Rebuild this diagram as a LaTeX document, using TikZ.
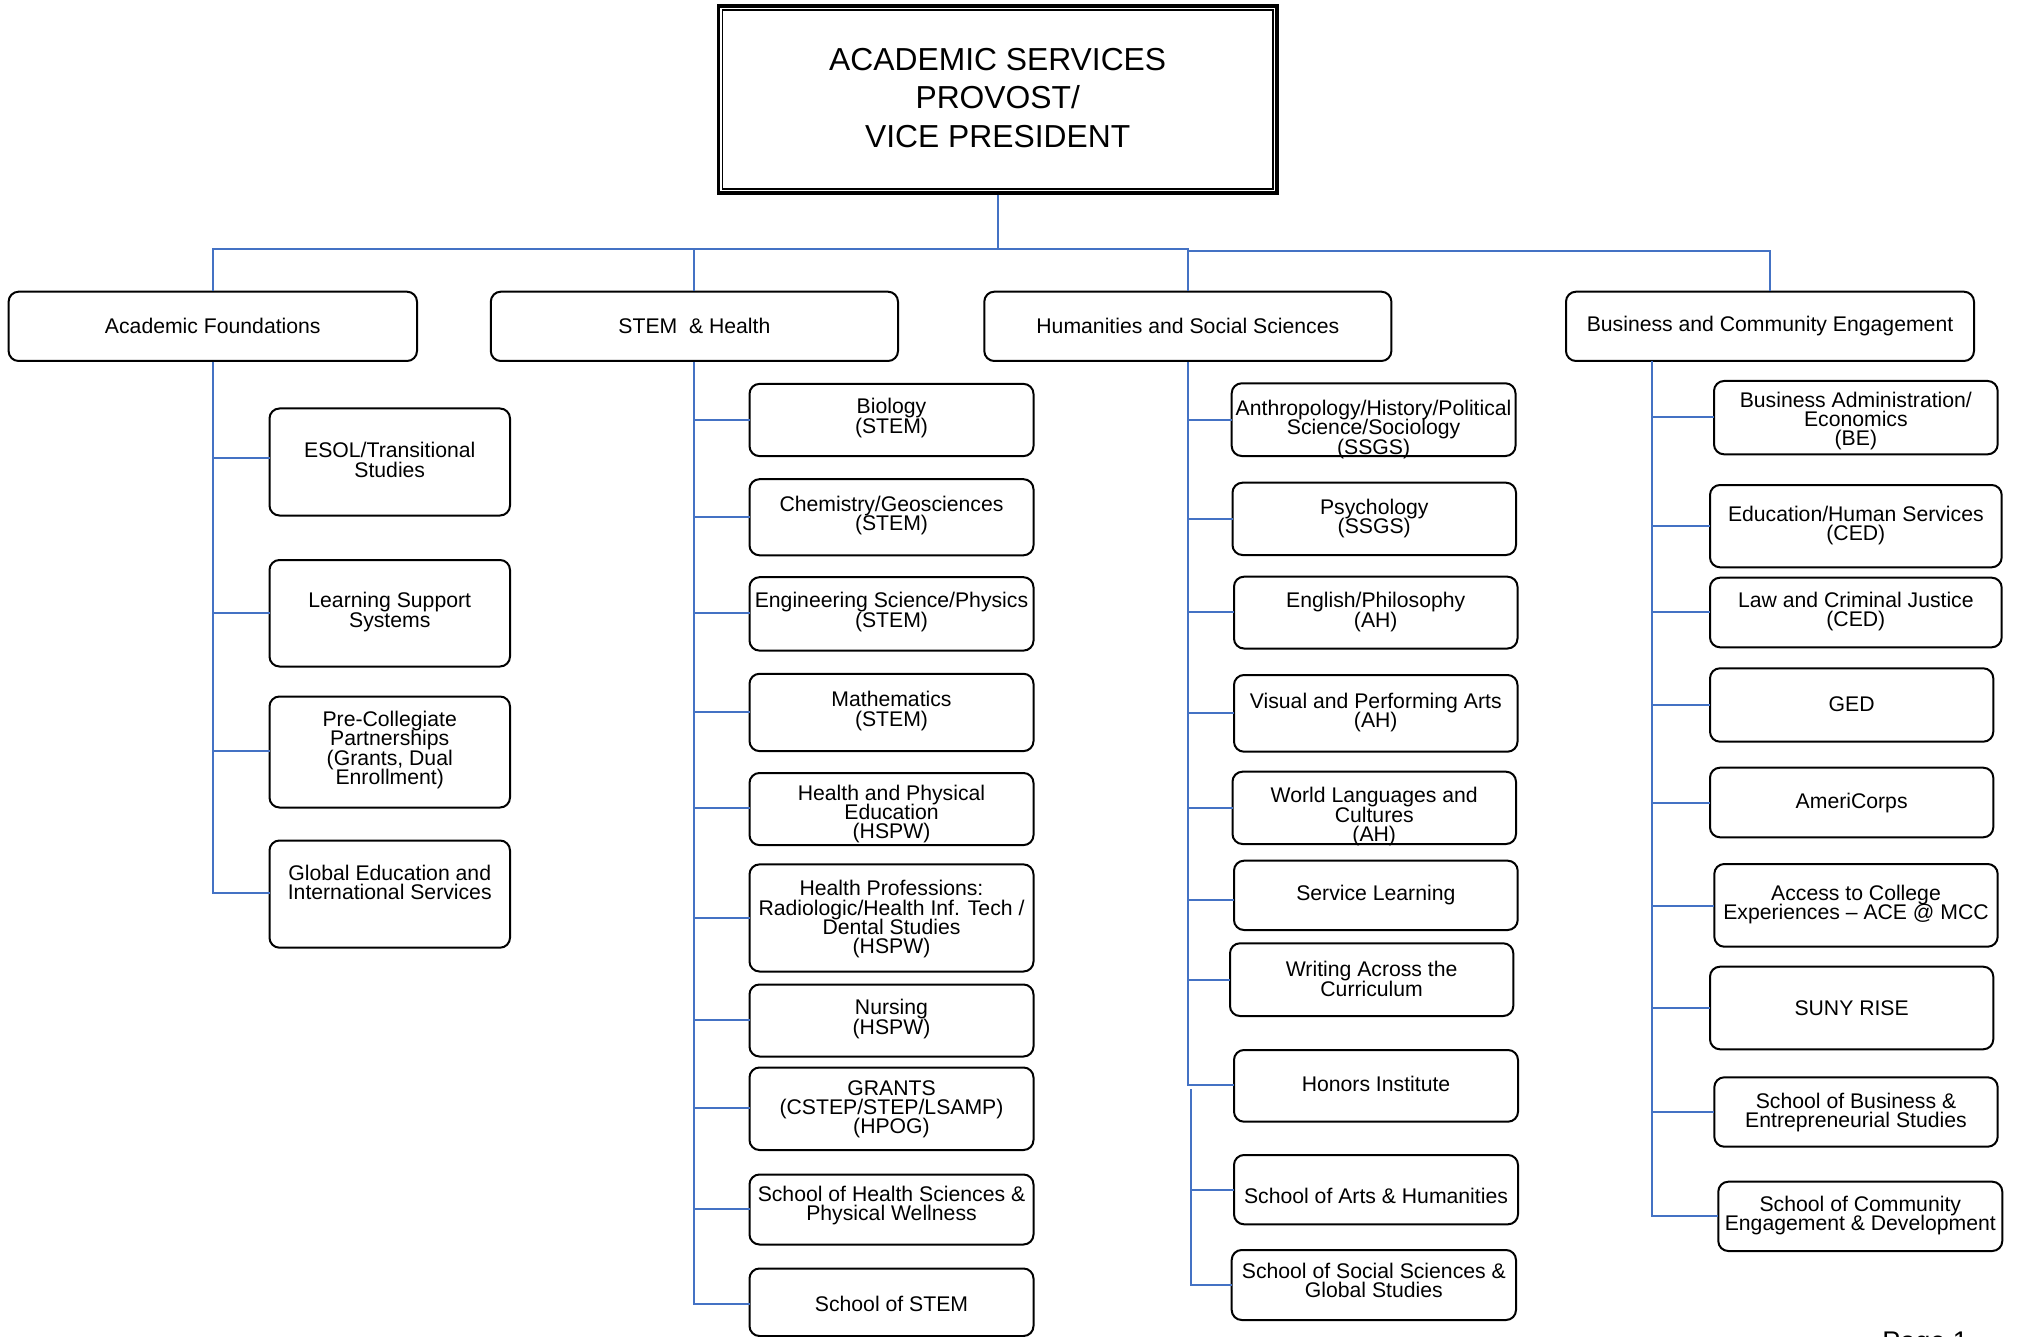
\documentclass[tikz,border=0pt]{standalone}
\usepackage{fontspec}
\setmainfont{Liberation Sans}
\definecolor{connblue}{HTML}{4472C4}
\tikzset{
  cbox/.style={draw=black, line width=1pt, rounded corners=5pt, inner sep=0pt},
  txt/.style={inner sep=0pt, align=center, font=\fontsize{10.6}{9.65}\selectfont},
  conn/.style={draw=connblue, line width=1pt},
}
% name, x1, y1, x2, y2, text y, connector y, text
\newcommand{\obox}[8]{%
  \node[cbox, minimum width={(#4-#2)*0.5pt}, minimum height={(#5-#3)*0.5pt}] (#1) at ({(#2+#4)/2},{(#3+#5)/2}) {};
  \node[txt] (#1-t) at ({(#2+#4)/2},#6) {#8};
  \coordinate (#1-c) at (#2,#7);}
\begin{document}
\lineskiplimit=-20pt\relax
\lineskip=0pt\relax
\begin{tikzpicture}[x=0.5pt,y=-0.5pt]
\useasboundingbox (0,0) rectangle (2020,1337);
\fill[white] (0,0) rectangle (2020,1337);

% top box
\node[draw=black, line width=1.7pt, minimum width={(1277-718.4)*0.5pt}, minimum height={(193-6)*0.5pt}, inner sep=0pt] (top) at ({(718.4+1277)/2},{(6+193)/2}) {};
\draw[line width=0.8pt] ([shift={(2.8pt,-2.8pt)}]top.north west) rectangle ([shift={(-2.8pt,2.8pt)}]top.south east);
\node[inner sep=0pt, align=center, font=\fontsize{15.9}{19.3}\selectfont] (top-t) at (997.7,98) {ACADEMIC SERVICES\\PROVOST/\\VICE PRESIDENT};

% level 1
\obox{AF}{8.6}{291.7}{417}{361}{326}{326}{Academic Foundations}
\obox{STEM}{490.8}{291.7}{898}{361}{326}{326}{STEM\ \ \& Health}
\obox{HSS}{984.3}{291.7}{1391.4}{361}{326}{326}{Humanities and Social Sciences}
\obox{BCE}{1566}{291.7}{1974}{361}{326}{326}{Business and Community Engagement}

% bus
\coordinate (busL) at (0,249);
\coordinate (busR) at (0,251);
\draw[conn] (top.south) -- (top.south |- busL) -| (AF.north);
\draw[conn] (top.south |- busL) -| (STEM.north);
\draw[conn] (top.south |- busL) -| (HSS.north);
\draw[conn] (HSS.north |- busR) -| (BCE.north);

% Academic Foundations column
\obox{esol}{269.5}{408.5}{510}{515.5}{460}{457.7}{ESOL/Transitional\\Studies}
\obox{lss}{269.5}{560}{510}{666.5}{612}{613.3}{Learning Support\\Systems}
\obox{pcp}{269.5}{696.5}{510}{807.5}{750}{750.7}{Pre-Collegiate\\Partnerships\\(Grants, Dual\\Enrollment)}
\obox{gei}{269.5}{840.5}{510}{947.7}{882.7}{893.3}{Global Education and\\International Services}
\draw[conn] (AF.south) -- (AF.south |- gei-c) -- (gei-c);
\foreach \n in {esol,lss,pcp} \draw[conn] (AF.south |- \n-c) -- (\n-c);

% STEM column
\obox{bio}{749.5}{383.9}{1033.5}{456.1}{418}{420}{Biology\\(STEM)}
\obox{chem}{749.5}{479.2}{1033.5}{555.3}{515.5}{516.6}{Chemistry/Geosciences\\(STEM)}
\obox{eng}{749.5}{577.2}{1033.5}{650.6}{612}{613.2}{Engineering Science/Physics\\(STEM)}
\obox{math}{749.5}{673.8}{1033.5}{751.1}{711}{712.4}{Mathematics\\(STEM)}
\obox{hpe}{749.5}{773}{1033.5}{845.1}{814.2}{807.8}{Health and Physical\\Education\\(HSPW)}
\obox{hp}{749.5}{864.4}{1033.5}{971.5}{919.2}{917.7}{Health Professions:\\Radiologic/Health Inf. Tech /\\Dental Studies\\(HSPW)}
\obox{nur}{749.5}{984.5}{1033.5}{1056.5}{1019}{1020}{Nursing\\(HSPW)}
\obox{grants}{749.5}{1067.5}{1033.5}{1150}{1109.2}{1108.3}{GRANTS\\(CSTEP/STEP/LSAMP)\\(HPOG)}
\obox{shs}{749.5}{1174.5}{1033.5}{1244.5}{1205.2}{1209}{School of Health Sciences \&\\Physical Wellness}
\obox{sstem}{749.5}{1268.5}{1033.5}{1336}{1303.8}{1304}{School of STEM}
\draw[conn] (STEM.south) -- (STEM.south |- sstem-c) -- (sstem-c);
\foreach \n in {bio,chem,eng,math,hpe,hp,nur,grants,shs} \draw[conn] (STEM.south |- \n-c) -- (\n-c);

% Humanities column
\obox{anth}{1231.7}{383.3}{1515.5}{456}{429.3}{420}{Anthropology/History/Political\\Science/Sociology\\(SSGS)}
\obox{psy}{1232.5}{482.7}{1516}{555}{518.3}{519}{Psychology\\(SSGS)}
\obox{engl}{1234}{576.7}{1517.5}{648.5}{612}{612.3}{English/Philosophy\\(AH)}
\obox{vpa}{1234}{675}{1517.5}{751.7}{712.8}{713.3}{Visual and Performing Arts\\(AH)}
\obox{wlc}{1232.5}{771.7}{1516}{844}{816.7}{808.3}{World Languages and\\Cultures\\(AH)}
\obox{svl}{1234}{860.7}{1517.7}{930}{895}{900}{Service Learning}
\obox{wac}{1230}{943.3}{1513.3}{1016}{979}{980}{Writing Across the\\Curriculum}
\obox{hon}{1234}{1050}{1518}{1121.7}{1084}{1085}{Honors Institute}
\obox{sah}{1234}{1155}{1518}{1224.3}{1196}{1190}{School of Arts \& Humanities}
\obox{sss}{1231.7}{1250}{1516}{1320}{1280.7}{1285}{School of Social Sciences \&\\Global Studies}
\draw[conn] (HSS.south) -- (HSS.south |- hon-c) -- (hon-c);
\foreach \n in {anth,psy,engl,vpa,wlc,svl,wac} \draw[conn] (HSS.south |- \n-c) -- (\n-c);
\coordinate (hssB) at (1190.8,1089);
\draw[conn] (hssB) -- (hssB |- sss-c) -- (sss-c);
\draw[conn] (hssB |- sah-c) -- (sah-c);

% Business column
\obox{ba}{1714}{381}{1997.7}{454.3}{421}{417.3}{Business Administration/\\Economics\\(BE)}
\obox{ehs}{1710}{485}{2001.7}{567.3}{525.3}{526}{Education/Human Services\\(CED)}
\obox{lcj}{1710}{577.7}{2001.7}{647.3}{611.7}{612.3}{Law and Criminal Justice\\(CED)}
\obox{ged}{1710}{668.3}{1993.3}{741.7}{704}{705}{GED}
\obox{amc}{1710}{767.7}{1993.3}{837.3}{803}{802.7}{AmeriCorps}
\obox{ace}{1714.3}{864}{1997.7}{946.7}{904.5}{905.7}{Access to College\\Experiences – ACE @ MCC}
\obox{suny}{1710}{966.7}{1993.3}{1049.3}{1008.5}{1007.7}{SUNY RISE}
\obox{sbes}{1714.3}{1077.3}{1997.7}{1146.7}{1112.7}{1111.7}{School of Business \&\\Entrepreneurial Studies}
\obox{sced}{1718.3}{1181.7}{2002.3}{1251}{1215.8}{1216}{School of Community\\Engagement \& Development}
\coordinate (bceT) at (1652,361);
\draw[conn] (bceT) -- (bceT |- sced-c) -- (sced-c);
\foreach \n in {ba,ehs,lcj,ged,amc,ace,suny,sbes} \draw[conn] (bceT |- \n-c) -- (\n-c);

% page number (cut off at bottom edge, as in the reference)
\node[inner sep=0pt, anchor=north west, font=\fontsize{13.5}{16}\selectfont] (pg) at (1882,1332) {Page 1};
\end{tikzpicture}
\end{document}
